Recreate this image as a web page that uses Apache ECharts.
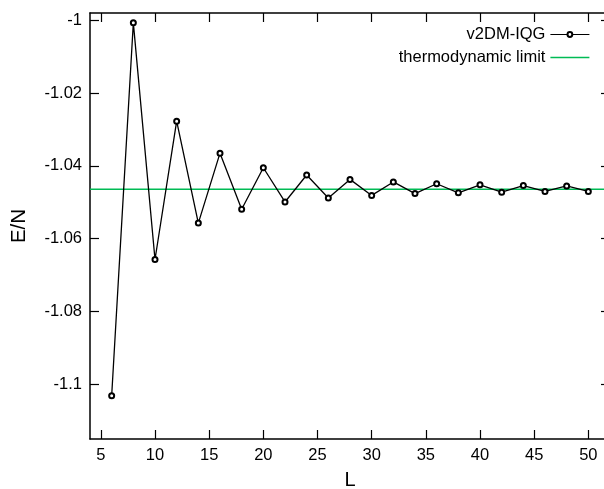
<!DOCTYPE html>
<html>
<head>
<meta charset="utf-8">
<script src="https://cdn.jsdelivr.net/npm/echarts@6/dist/echarts.min.js"></script>
<style>
html,body{margin:0;padding:0;background:#fff;}
#chart{width:604px;height:489px;}
</style>
</head>
<body>
<div id="chart"></div>
<script>
// Data
var L_values = [6, 8, 10, 12, 14, 16, 18, 20, 22, 24, 26, 28, 30, 32, 34, 36, 38, 40, 42, 44, 46, 48, 50];
var E_values = [-1.1031, -1.0007, -1.0657, -1.0277, -1.0557, -1.0365, -1.0519, -1.0405, -1.0499, -1.0425,
                -1.0488, -1.0437, -1.0481, -1.0444, -1.0476, -1.0449, -1.0474, -1.0452, -1.0472, -1.0454,
                -1.0470, -1.0455, -1.0470];
var thermoLimit = -1.0464;
var xRange = [4, 52];
var yRange = [-1.115, -0.998];
var xTicks = [5, 10, 15, 20, 25, 30, 35, 40, 45, 50];
var yTicks = [-1.1, -1.08, -1.06, -1.04, -1.02, -1];
var seriesNames = ['v2DM-IQG', 'thermodynamic limit'];

var mainData = L_values.map(function (l, i) { return [l, E_values[i]]; });
var limitData = [[xRange[0], thermoLimit], [xRange[1], thermoLimit]];

var FONT = "'Liberation Sans', Arial, sans-serif";
var GREEN = '#00bb55';
var axisLineStyle = { color: '#000', width: 1.5 };

function fmtY(v) { return String(parseFloat(Number(v).toFixed(3))); }

var chart = echarts.init(document.getElementById('chart'), null, { renderer: 'canvas' });
chart.setOption({
  animation: false,
  backgroundColor: '#fff',
  grid: { left: 90, top: 13, width: 520, height: 426, containLabel: false, outerBoundsMode: 'none' },
  legend: {
    orient: 'vertical',
    right: 9,
    top: 21,
    align: 'right',
    itemWidth: 39,
    itemHeight: 6,
    itemGap: 6,
    lineStyle: { width: 1.2 },
    textStyle: { fontFamily: FONT, fontSize: 16.5, color: '#000', lineHeight: 17 },
    data: [
      { name: seriesNames[0] },
      { name: seriesNames[1], icon: 'path://M0,0H40V1.6H0Z', itemStyle: { color: GREEN } }
    ]
  },
  xAxis: [{
    type: 'value', min: xRange[0], max: xRange[1], position: 'bottom',
    name: 'L', nameLocation: 'middle', nameGap: 31,
    nameTextStyle: { fontFamily: FONT, fontSize: 20, color: '#000' },
    axisLine: { show: true, lineStyle: axisLineStyle },
    axisTick: { show: true, inside: true, length: 9, lineStyle: { color: '#000', width: 1.2 }, customValues: xTicks },
    axisLabel: { show: true, margin: 8, fontFamily: FONT, fontSize: 16.5, color: '#000', customValues: xTicks },
    splitLine: { show: false }
  }, {
    type: 'value', min: xRange[0], max: xRange[1], position: 'top',
    axisLine: { show: true, lineStyle: axisLineStyle },
    axisTick: { show: true, inside: true, length: 9, lineStyle: { color: '#000', width: 1.2 }, customValues: xTicks },
    axisLabel: { show: false },
    splitLine: { show: false }
  }],
  yAxis: [{
    type: 'value', min: yRange[0], max: yRange[1], position: 'left',
    name: 'E/N', nameLocation: 'middle', nameGap: 60, nameRotate: 90,
    nameTextStyle: { fontFamily: FONT, fontSize: 20.5, color: '#000' },
    axisLine: { show: true, lineStyle: axisLineStyle },
    axisTick: { show: true, inside: true, length: 9, lineStyle: { color: '#000', width: 1.2 }, customValues: yTicks },
    axisLabel: { show: true, margin: 8, fontFamily: FONT, fontSize: 16.5, color: '#000', customValues: yTicks, formatter: fmtY },
    splitLine: { show: false }
  }, {
    type: 'value', min: yRange[0], max: yRange[1], position: 'right',
    axisLine: { show: true, lineStyle: axisLineStyle },
    axisTick: { show: true, inside: true, length: 9, lineStyle: { color: '#000', width: 1.2 }, customValues: yTicks },
    axisLabel: { show: false },
    splitLine: { show: false }
  }],
  series: [{
    name: seriesNames[0],
    type: 'line',
    xAxisIndex: 0, yAxisIndex: 0,
    data: mainData,
    symbol: 'emptyCircle',
    symbolSize: 5,
    showAllSymbol: true,
    lineStyle: { color: '#000', width: 1.3 },
    itemStyle: { color: '#000', borderColor: '#000', borderWidth: 1 },
    z: 3
  }, {
    name: seriesNames[1],
    type: 'line',
    xAxisIndex: 0, yAxisIndex: 0,
    data: limitData,
    symbol: 'none',
    lineStyle: { color: GREEN, width: 1.5 },
    itemStyle: { color: GREEN },
    z: 2
  }]
});
</script>
</body>
</html>
